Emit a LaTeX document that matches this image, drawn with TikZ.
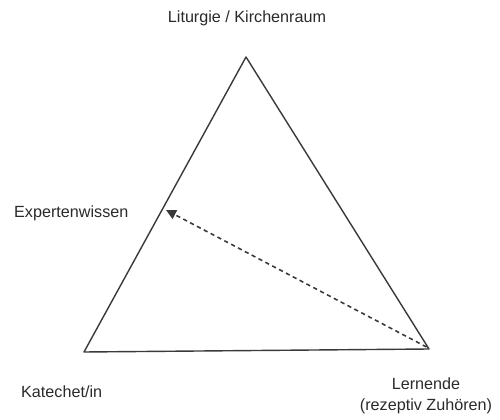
\documentclass[tikz,border=0pt]{standalone}
\usepackage{fontspec}
\setmainfont{Liberation Sans}
\usetikzlibrary{positioning, arrows.meta, calc}
\usepackage{xcolor}
\definecolor{dkline}{HTML}{3A3A3A}
\definecolor{dktext}{HTML}{2A2A2A}

\begin{document}
\begin{tikzpicture}[every node/.style={text=dktext, font=\fontsize{9.2}{12}\selectfont}]
        \useasboundingbox (0,0) rectangle (10,8.38);
        \coordinate (top) at (4.92,7.24);
        \coordinate (kat) at (1.68,1.34);
        \coordinate (lern) at (8.58,1.40);
        \coordinate (exp) at (3.32,4.18);
        \draw[dkline, line width=0.8pt, line join=round] (top) -- (kat) -- (lern) -- cycle;
        \draw[dkline, line width=0.9pt, dash pattern=on 2.4pt off 2pt, -{Triangle[length=2mm, width=1.9mm]}]
              ($(lern)+(-0.05,0.04)$) -- (exp);
        \node (lit) at (4.94,8.02) {Liturgie / Kirchenraum};
        \node[anchor=west] (expl) at (0.16,4.12) {Expertenwissen};
        \node[anchor=west] (katl) at (0.30,0.54) {Katechet/in};
        \node[align=center] (lernl) at (8.52,0.46) {Lernende\\(rezeptiv Zuhören)};
      \end{tikzpicture}
\end{document}
